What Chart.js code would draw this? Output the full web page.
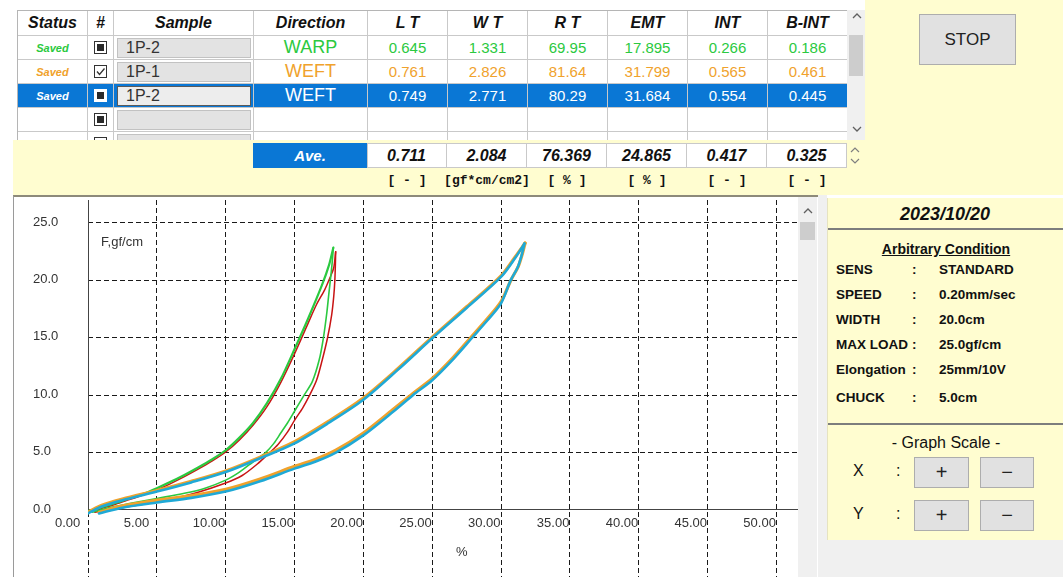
<!DOCTYPE html>
<html>
<head>
<meta charset="utf-8">
<script src="https://cdn.jsdelivr.net/npm/chart.js@4.4.1/dist/chart.umd.min.js"></script>
<style>
  html, body { margin: 0; padding: 0; }
  body { width: 1063px; height: 577px; overflow: hidden; position: relative; background: #ffffff;
         font-family: "Liberation Sans", Arial, sans-serif; color: #111; }
  .a { position: absolute; box-sizing: border-box; }
  .c { display: flex; align-items: center; justify-content: center; white-space: nowrap; }
  .btn { background: #e1e1e1; border: 1px solid #adadad; color: #222; }
  .lbl { font-weight: bold; font-size: 13.5px; color: #111; white-space: nowrap; }
</style>
</head>
<body>
<!-- top yellow panel -->
<div class="a" style="left:13px;top:0;width:1050px;height:195px;background:#fffdd0"></div>
<div class="a" style="left:13px;top:0;width:852px;height:140px;background:#ffffff"></div>
<div id="grid" class="a" style="left:17px;top:10px;width:830px;height:130px;overflow:hidden;background:#fff;border-left:1px solid #b5b5b5;border-top:1px solid #b5b5b5"></div>
<!-- grid scrollbar -->
<div class="a" style="left:847px;top:10px;width:18px;height:130px;background:#f0f0f0"></div>
<svg class="a" style="left:852px;top:12px" width="10" height="8"><polyline points="1,6 5,2 9,6" fill="none" stroke="#606060" stroke-width="1.3"/></svg>
<div class="a" style="left:849px;top:35px;width:14px;height:41px;background:#cdcdcd"></div>
<svg class="a" style="left:852px;top:125px" width="10" height="8"><polyline points="1,2 5,6 9,2" fill="none" stroke="#606060" stroke-width="1.3"/></svg>
<!-- ave spinner -->
<svg class="a" style="left:850px;top:146px" width="10" height="8"><polyline points="1,6 5,2 9,6" fill="none" stroke="#808080" stroke-width="1.2"/></svg>
<svg class="a" style="left:850px;top:157px" width="10" height="8"><polyline points="1,2 5,6 9,2" fill="none" stroke="#808080" stroke-width="1.2"/></svg>
<!-- STOP -->
<div class="a c btn" style="left:919px;top:14px;width:97px;height:51px;font-size:17px;">STOP</div>

<!-- chart panel -->
<div class="a" style="left:13px;top:195px;width:805px;height:382px;background:#ffffff;border-left:1px solid #9a9a9a;border-top:2px solid #8d8a7a"></div>
<canvas id="chart" class="a" width="784" height="380" style="left:14px;top:197px;width:784px;height:380px"></canvas>
<div class="a" style="left:798px;top:197px;width:19px;height:380px;background:#f0f0f0"></div>
<svg class="a" style="left:803px;top:207px" width="10" height="8"><polyline points="1,6 5,2 9,6" fill="none" stroke="#606060" stroke-width="1.3"/></svg>
<div class="a" style="left:800px;top:222px;width:15px;height:18px;background:#cdcdcd"></div>
<div class="a" style="left:818px;top:195px;width:9px;height:382px;background:#f0f0f0"></div>

<!-- right info panel -->
<div class="a" style="left:827px;top:540px;width:236px;height:37px;background:#f0f0f0"></div>
<div class="a" style="left:827px;top:198px;width:236px;height:342px;background:#fffdd0;border-left:1px solid #e6e3c0">
  <div class="a c" style="left:0;top:5px;width:234px;height:22px;font-size:18px;font-weight:bold;font-style:italic;color:#111">2023/10/20</div>
  <div class="a" style="left:0;top:30px;width:236px;height:2px;background:#7d7d7d"></div>
  <div class="a c" style="left:0;top:41px;width:236px;height:20px;font-size:14px;font-weight:bold;text-decoration:underline;color:#111">Arbitrary Condition</div>
  <div id="conds"></div>
  <div class="a" style="left:0;top:225px;width:236px;height:2px;background:#7d7d7d"></div>
  <div class="a c" style="left:0;top:235px;width:236px;height:20px;font-size:16px;color:#111">- Graph Scale -</div>
  <div class="a" style="left:25px;top:264px;font-size:16px;">X</div>
  <div class="a" style="left:68px;top:264px;font-size:16px;">:</div>
  <div class="a c btn" style="left:86px;top:259px;width:55px;height:31px;font-size:20px;">+</div>
  <div class="a c btn" style="left:152px;top:259px;width:54px;height:31px;font-size:20px;">&#8722;</div>
  <div class="a" style="left:25px;top:307px;font-size:16px;">Y</div>
  <div class="a" style="left:68px;top:307px;font-size:16px;">:</div>
  <div class="a c btn" style="left:86px;top:302px;width:55px;height:31px;font-size:20px;">+</div>
  <div class="a c btn" style="left:152px;top:302px;width:54px;height:31px;font-size:20px;">&#8722;</div>
</div>

<script>
// ---------------- chart data (strain %, force gf/cm) ----------------
const xTickValues = [0, 5, 10, 15, 20, 25, 30, 35, 40, 45, 50];
const yTickValues = [0, 5, 10, 15, 20, 25];

// WARP 1P-2 (green)
const greenLoadStrain   = [0.0, 1.0, 2.0, 3.0, 4.0, 5.0, 6.0, 7.0, 8.0, 9.0, 10.0, 11.0, 12.0, 13.0, 14.0, 15.0, 16.0, 17.0, 17.5, 17.82];
const greenLoadForce    = [-0.1, 0.25, 0.6, 1.0, 1.4, 1.9, 2.45, 3.05, 3.7, 4.4, 5.2, 6.3, 7.6, 9.3, 11.4, 14.0, 16.7, 19.6, 21.3, 22.85];
const greenUnloadStrain = [17.82, 17.74, 17.64, 17.5, 17.35, 17.1, 16.8, 16.3, 15.7, 15.0, 14.5, 14.0, 13.5, 12.9, 12.0, 11.0, 10.0, 8.5, 7.0, 5.0, 3.0, 1.5, 0.3];
const greenUnloadForce  = [22.85, 21.6, 20.4, 18.9, 17.2, 15.0, 13.1, 11.2, 10.0, 8.6, 7.6, 6.7, 5.8, 5.0, 4.2, 3.3, 2.6, 1.9, 1.45, 1.0, 0.55, 0.2, -0.2];

// red
const redLoadStrain   = [0.0, 1.0, 2.0, 3.0, 4.0, 5.0, 6.0, 7.0, 8.0, 9.0, 10.0, 11.0, 12.0, 13.0, 14.0, 15.0, 16.0, 16.6, 17.2, 17.6, 17.85, 17.99];
const redLoadForce    = [-0.2, 0.15, 0.5, 0.9, 1.3, 1.75, 2.3, 2.9, 3.55, 4.25, 5.05, 6.1, 7.4, 9.0, 11.1, 13.6, 16.3, 17.9, 19.2, 20.3, 21.1, 22.5];
const redUnloadStrain = [17.99, 17.97, 17.93, 17.85, 17.7, 17.4, 17.0, 16.6, 16.1, 15.6, 15.0, 14.5, 13.8, 13.2, 12.3, 11.2, 10.0, 8.0, 6.0, 4.0, 2.0, 0.5];
const redUnloadForce  = [22.5, 21.4, 20.0, 18.6, 17.0, 15.0, 13.0, 11.3, 10.0, 8.9, 7.8, 6.8, 5.7, 5.0, 4.0, 3.0, 2.35, 1.55, 0.95, 0.5, 0.1, -0.2];

// WEFT 1P-1 (orange)
const orangeLoadStrain   = [0.0, 1.0, 2.5, 5.0, 7.5, 10.0, 12.5, 15.0, 17.5, 20.0, 22.5, 25.0, 27.5, 30.0, 31.0, 31.75];
const orangeLoadForce    = [-0.2, 0.4, 0.95, 1.7, 2.5, 3.4, 4.6, 5.95, 7.75, 9.75, 12.3, 15.05, 17.7, 20.4, 22.0, 23.25];
const orangeUnloadStrain = [31.75, 31.55, 31.25, 30.75, 30.0, 29.0, 27.9, 26.5, 25.0, 23.6, 22.0, 20.0, 18.0, 16.5, 15.0, 12.5, 10.0, 7.5, 5.0, 2.5, 0.8];
const orangeUnloadForce  = [23.25, 22.3, 21.2, 20.1, 18.15, 16.65, 15.15, 13.25, 11.45, 10.15, 8.6, 6.7, 5.2, 4.4, 3.8, 2.7, 1.8, 1.25, 0.85, 0.35, -0.2];

// WEFT 1P-2 (cyan, selected)
const cyanLoadStrain   = [0.0, 1.0, 2.5, 5.0, 7.5, 10.0, 12.5, 15.0, 17.5, 20.0, 22.5, 25.0, 27.5, 30.0, 31.0, 31.7];
const cyanLoadForce    = [-0.3, 0.3, 0.85, 1.6, 2.4, 3.3, 4.5, 5.8, 7.6, 9.6, 12.2, 14.95, 17.6, 20.3, 21.9, 23.2];
const cyanUnloadStrain = [31.7, 31.5, 31.2, 30.7, 30.0, 29.0, 27.9, 26.5, 25.0, 23.6, 22.0, 20.0, 18.0, 16.5, 15.0, 12.5, 10.0, 7.5, 5.0, 2.5, 0.8];
const cyanUnloadForce  = [23.2, 22.2, 21.1, 20.0, 18.0, 16.5, 15.0, 13.1, 11.3, 10.0, 8.4, 6.5, 5.0, 4.2, 3.6, 2.5, 1.6, 1.05, 0.65, 0.2, -0.3];

// ---------------- table data ----------------
const headerLabels = ['Status', '#', 'Sample', 'Direction', 'L T', 'W T', 'R T', 'EMT', 'INT', 'B-INT'];
const rowStatus    = ['Saved', 'Saved', 'Saved', '', ''];
const rowCheck     = ['fill', 'tick', 'fill', 'fill', 'fill'];
const rowSample    = ['1P-2', '1P-1', '1P-2', '', ''];
const rowDirection = ['WARP', 'WEFT', 'WEFT', '', ''];
const rowValues = [
  ['0.645', '1.331', '69.95', '17.895', '0.266', '0.186'],
  ['0.761', '2.826', '81.64', '31.799', '0.565', '0.461'],
  ['0.749', '2.771', '80.29', '31.684', '0.554', '0.445'],
  [], []
];
const aveValues  = ['0.711', '2.084', '76.369', '24.865', '0.417', '0.325'];
const unitLabels = ['[ - ]', '[gf*cm/cm2]', '[ % ]', '[ % ]', '[ - ]', '[ - ]'];
const condLabels = ['SENS', 'SPEED', 'WIDTH', 'MAX LOAD', 'Elongation', 'CHUCK'];
const condValues = ['STANDARD', '0.20mm/sec', '20.0cm', '25.0gf/cm', '25mm/10V', '5.0cm'];

// ---------------- layout / style ----------------
const GREEN = '#2bc940', ORANGE = '#f0a22c', RED = '#c81414', CYAN = '#1fa9d6', SEL = '#0a77d5';
const rowColors = [GREEN, ORANGE, '#ffffff', '#111', '#111'];
const colEdges = [17, 87, 113, 253, 367, 447, 527, 607, 687, 767, 847];

function box(parent, l, t, w, h, css, text) {
  const d = document.createElement('div');
  d.className = 'a';
  d.style.cssText += `left:${l}px;top:${t}px;width:${w}px;height:${h}px;` + (css || '');
  if (text != null) d.textContent = text;
  parent.appendChild(d);
  return d;
}
const cellCss = 'border-right:1px solid #c9c9c9;border-bottom:1px solid #c9c9c9;display:flex;align-items:center;justify-content:center;white-space:nowrap;';

const grid = document.getElementById('grid');
for (let c = 0; c < headerLabels.length; c++) {
  const l = colEdges[c] - 17, w = colEdges[c + 1] - colEdges[c];
  box(grid, l, 0, w, 25, cellCss + 'font-weight:bold;font-style:italic;font-size:16px;color:#111;', headerLabels[c]);
}
for (let r = 0; r < rowStatus.length; r++) {
  const top = 25 + r * 24;
  const sel = r === 2;
  const bg = sel ? 'background:' + SEL + ';' : 'background:#fff;';
  const col = rowColors[r];
  for (let c = 0; c < headerLabels.length; c++) {
    const l = colEdges[c] - 17, w = colEdges[c + 1] - colEdges[c];
    const cell = box(grid, l, top, w, 24, cellCss + bg);
    if (c === 0) {
      cell.textContent = rowStatus[r];
      cell.style.cssText += 'font-weight:bold;font-style:italic;font-size:11px;color:' + col + ';';
    } else if (c === 1) {
      const cb = box(cell, 6, 5, 13, 13, 'border:1px solid ' + (sel ? '#ffffff' : '#333') + ';background:#fff;');
      if (rowCheck[r] === 'fill') {
        box(cb, 2, 2, 7, 7, 'background:#2a2a2a;');
      } else {
        cb.innerHTML = '<svg width="11" height="11" style="position:absolute;left:0;top:0"><polyline points="2,5.5 4.5,8.5 9.5,2.5" fill="none" stroke="#333" stroke-width="1.3"/></svg>';
      }
    } else if (c === 2) {
      const sb = box(cell, 3, 2, 134, 20, 'background:' + (sel ? '#ededed' : '#e3e3e3') + ';border:1px solid ' + (sel ? '#5a5a5a' : '#c2c2c2') + ';font-size:16px;color:#333;line-height:18px;padding-left:8px;');
      sb.textContent = rowSample[r];
    } else if (c === 3) {
      cell.textContent = rowDirection[r];
      cell.style.cssText += 'font-size:18px;color:' + col + ';';
    } else {
      const v = rowValues[r][c - 4];
      if (v) { cell.textContent = v; cell.style.cssText += 'font-size:15px;color:' + col + ';'; }
    }
  }
}
const body = document.body;
box(body, 253, 143, 114, 25, 'background:' + SEL + ';color:#fff;font-weight:bold;font-style:italic;font-size:15px;display:flex;align-items:center;justify-content:center;', 'Ave.');
for (let i = 0; i < aveValues.length; i++) {
  box(body, colEdges[4 + i], 143, 80, 25, 'background:#fff;border:1px solid #c9c9c9;border-left:none;display:flex;align-items:center;justify-content:center;font-weight:bold;font-style:italic;font-size:16px;color:#111;', aveValues[i]);
}
box(body, colEdges[4], 143, 1, 25, 'background:#c9c9c9;');
for (let i = 0; i < unitLabels.length; i++) {
  box(body, colEdges[4 + i] - 10, 170, 100, 20, 'display:flex;align-items:center;justify-content:center;font-family:\"Liberation Mono\",monospace;font-weight:bold;font-size:13px;color:#111;white-space:nowrap;', unitLabels[i]);
}
const conds = document.getElementById('conds');
const condTops = [63, 88, 113, 138, 163, 191];
for (let i = 0; i < condLabels.length; i++) {
  const t = condTops[i];
  box(conds, 8, t, 75, 18, 'line-height:18px;', condLabels[i]).classList.add('lbl');
  box(conds, 84, t, 10, 18, 'line-height:18px;', ':').classList.add('lbl');
  box(conds, 111, t, 120, 18, 'line-height:18px;', condValues[i]).classList.add('lbl');
}

// ---------------- chart ----------------
function pts(xs, ys) { return xs.map((x, i) => ({ x: x, y: ys[i] })); }
function curve(xs, ys, color, width) {
  return { data: pts(xs, ys), borderColor: color, backgroundColor: color, borderWidth: width,
           showLine: true, pointRadius: 0, tension: 0.3, fill: false, borderJoinStyle: 'round', borderCapStyle: 'round' };
}
const chartNotes = [
  { text: 'F,gf/cm', at: [0.95, 23.3], align: 'left' },
  { text: '%', at: [27.15, -3.72], align: 'center' }
];
const overlayPlugin = {
  id: 'overlay',
  beforeDatasetsDraw(chart) {
    const { ctx, chartArea } = chart;
    const xs = chart.scales.x, ys = chart.scales.y;
    const px = Math.round(xs.getPixelForValue(0)) + 0.5;
    ctx.save();
    ctx.strokeStyle = '#444';
    ctx.lineWidth = 1;
    ctx.beginPath();
    ctx.moveTo(px, chartArea.top);
    ctx.lineTo(px, ys.getPixelForValue(0));
    ctx.stroke();
    ctx.fillStyle = '#333';
    ctx.font = '13px "Liberation Sans", Arial, sans-serif';
    ctx.textBaseline = 'middle';
    for (const n of chartNotes) {
      ctx.textAlign = n.align;
      ctx.fillText(n.text, xs.getPixelForValue(n.at[0]), ys.getPixelForValue(n.at[1]));
    }
    ctx.restore();
  }
};

Chart.defaults.font.family = '"Liberation Sans", Arial, sans-serif';
new Chart(document.getElementById('chart'), {
  type: 'scatter',
  data: {
    datasets: [
      curve(cyanLoadStrain, cyanLoadForce, CYAN, 2.6),
      curve(cyanUnloadStrain, cyanUnloadForce, CYAN, 2.6),
      curve(orangeLoadStrain, orangeLoadForce, ORANGE, 3.2),
      curve(orangeUnloadStrain, orangeUnloadForce, ORANGE, 3.2),
      curve(greenLoadStrain, greenLoadForce, GREEN, 2.2),
      curve(greenUnloadStrain, greenUnloadForce, GREEN, 1.6),
      curve(redLoadStrain, redLoadForce, RED, 1.5),
      curve(redUnloadStrain, redUnloadForce, RED, 1.5)
    ]
  },
  options: {
    responsive: false,
    animation: false,
    layout: { padding: { left: 19, right: 1, top: 3, bottom: 0 } },
    plugins: { legend: { display: false }, tooltip: { enabled: false } },
    scales: {
      x: {
        type: 'linear', min: 0, max: 51.5, position: { y: 0 },
        afterBuildTicks: s => { s.ticks = xTickValues.map(v => ({ value: v })); },
        afterFit: s => { s.paddingLeft = 0; s.paddingRight = 0; },
        grid: { color: '#1a1a1a', lineWidth: 1, drawTicks: false },
        border: { display: true, color: '#444', width: 1, dash: [5, 3] },
        ticks: { align: 'start', labelOffset: -33, padding: 6, color: '#333', autoSkip: false, maxRotation: 0,
                 font: { size: 13 }, callback: v => Number(v).toFixed(2) }
      },
      y: {
        type: 'linear', min: -5.84, max: 27, position: 'left',
        afterBuildTicks: s => { s.ticks = yTickValues.map(v => ({ value: v })); },
        afterFit: s => { s.width = 55; s.paddingTop = 0; s.paddingBottom = 0; },
        grid: { color: c => (c.tick && c.tick.value === 0) ? 'rgba(0,0,0,0)' : '#1a1a1a', lineWidth: 1, drawTicks: false },
        border: { display: false, dash: [5, 3] },
        ticks: { crossAlign: 'far', labelOffset: -1, color: '#333', font: { size: 13 }, callback: v => Number(v).toFixed(1) }
      }
    }
  },
  plugins: [overlayPlugin]
});
</script>
</body>
</html>
